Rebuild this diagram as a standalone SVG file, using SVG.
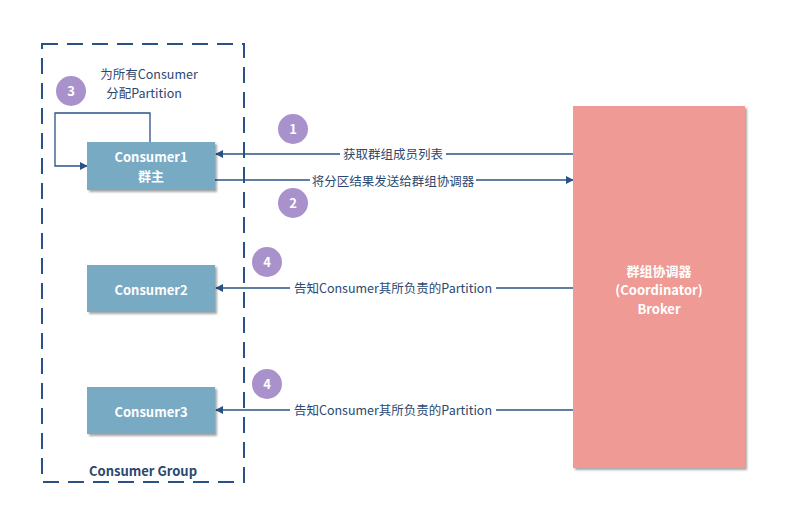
<svg xmlns="http://www.w3.org/2000/svg" width="790" height="526" viewBox="0 0 790 526">
<defs>
<marker id="ah" viewBox="0 0 10 10" refX="9" refY="5" markerWidth="8" markerHeight="8" markerUnits="userSpaceOnUse" orient="auto"><path d="M0,0 L10,5 L0,10 z" fill="#2B5286"/></marker>
<filter id="sh" x="-10%" y="-10%" width="130%" height="130%"><feDropShadow dx="2" dy="2" stdDeviation="1.2" flood-color="#000" flood-opacity="0.35"/></filter>
</defs>
<style>
text{font-family:"Microsoft YaHei","Noto Sans CJK SC","Noto Sans",sans-serif;}
.node{fill:#78AAC3;filter:url(#sh);}
.nt{fill:#fff;font-size:13px;font-weight:bold;text-anchor:middle;}
.lbl{fill:#2B4870;font-size:12.5px;text-anchor:middle;}
.line{stroke:#2B5286;stroke-width:1.3;fill:none;}
.num circle{fill:#A992CC;}
.num text{fill:#fff;font-size:13px;font-weight:bold;text-anchor:middle;}
.bg{fill:#fff;}
</style>
<rect width="790" height="526" fill="#fff"/>
<g id="group">
<rect x="42" y="44" width="202" height="438" fill="none" stroke="#2B5286" stroke-width="2" stroke-dasharray="16,9"/>
<text x="143" y="476" fill="#2B4870" font-size="13" font-weight="bold" text-anchor="middle">Consumer Group</text>
</g>
<g id="connectors">
<path class="line" d="M150,142 V113 H55 V166 H87" marker-end="url(#ah)"/>
<line class="line" x1="573" y1="154" x2="216" y2="154" marker-end="url(#ah)"/>
<line class="line" x1="215" y1="180" x2="573" y2="180" marker-end="url(#ah)"/>
<line class="line" x1="573" y1="288" x2="216" y2="288" marker-end="url(#ah)"/>
<line class="line" x1="573" y1="410" x2="216" y2="410" marker-end="url(#ah)"/>
<rect class="bg" x="340" y="147" width="106" height="15"/>
<text class="lbl" x="393" y="159">获取群组成员列表</text>
<rect class="bg" x="310" y="174" width="166" height="15"/>
<text class="lbl" x="393" y="186">将分区结果发送给群组协调器</text>
<rect class="bg" x="290" y="281" width="206" height="15"/>
<text class="lbl" x="393" y="293">告知Consumer其所负责的Partition</text>
<rect class="bg" x="290" y="403" width="206" height="15"/>
<text class="lbl" x="393" y="415">告知Consumer其所负责的Partition</text>
<text class="lbl" x="149" y="79">为所有Consumer</text>
<text class="lbl" x="144" y="98">分配Partition</text>
</g>
<g id="consumer1">
<rect class="node" x="87" y="142" width="128" height="48"/>
<text class="nt" x="151" y="162">Consumer1</text>
<text class="nt" x="151" y="181">群主</text>
</g>
<g id="consumer2">
<rect class="node" x="87" y="265" width="128" height="47"/>
<text class="nt" x="151" y="295">Consumer2</text>
</g>
<g id="consumer3">
<rect class="node" x="87" y="387" width="128" height="47"/>
<text class="nt" x="151" y="417">Consumer3</text>
</g>
<g id="broker">
<rect x="573" y="106" width="172" height="362" fill="#EF9A94" filter="url(#sh)"/>
<text class="nt" x="659" y="276">群组协调器</text>
<text class="nt" x="659" y="295">(Coordinator)</text>
<text class="nt" x="659" y="314">Broker</text>
</g>
<g id="step1" class="num"><circle cx="293" cy="129" r="15"/><text x="293" y="134">1</text></g>
<g id="step2" class="num"><circle cx="293" cy="203" r="15"/><text x="293" y="208">2</text></g>
<g id="step3" class="num"><circle cx="71" cy="91" r="15"/><text x="71" y="96">3</text></g>
<g id="step4a" class="num"><circle cx="267" cy="262" r="15"/><text x="267" y="267">4</text></g>
<g id="step4b" class="num"><circle cx="267" cy="384" r="15"/><text x="267" y="389">4</text></g>
</svg>
